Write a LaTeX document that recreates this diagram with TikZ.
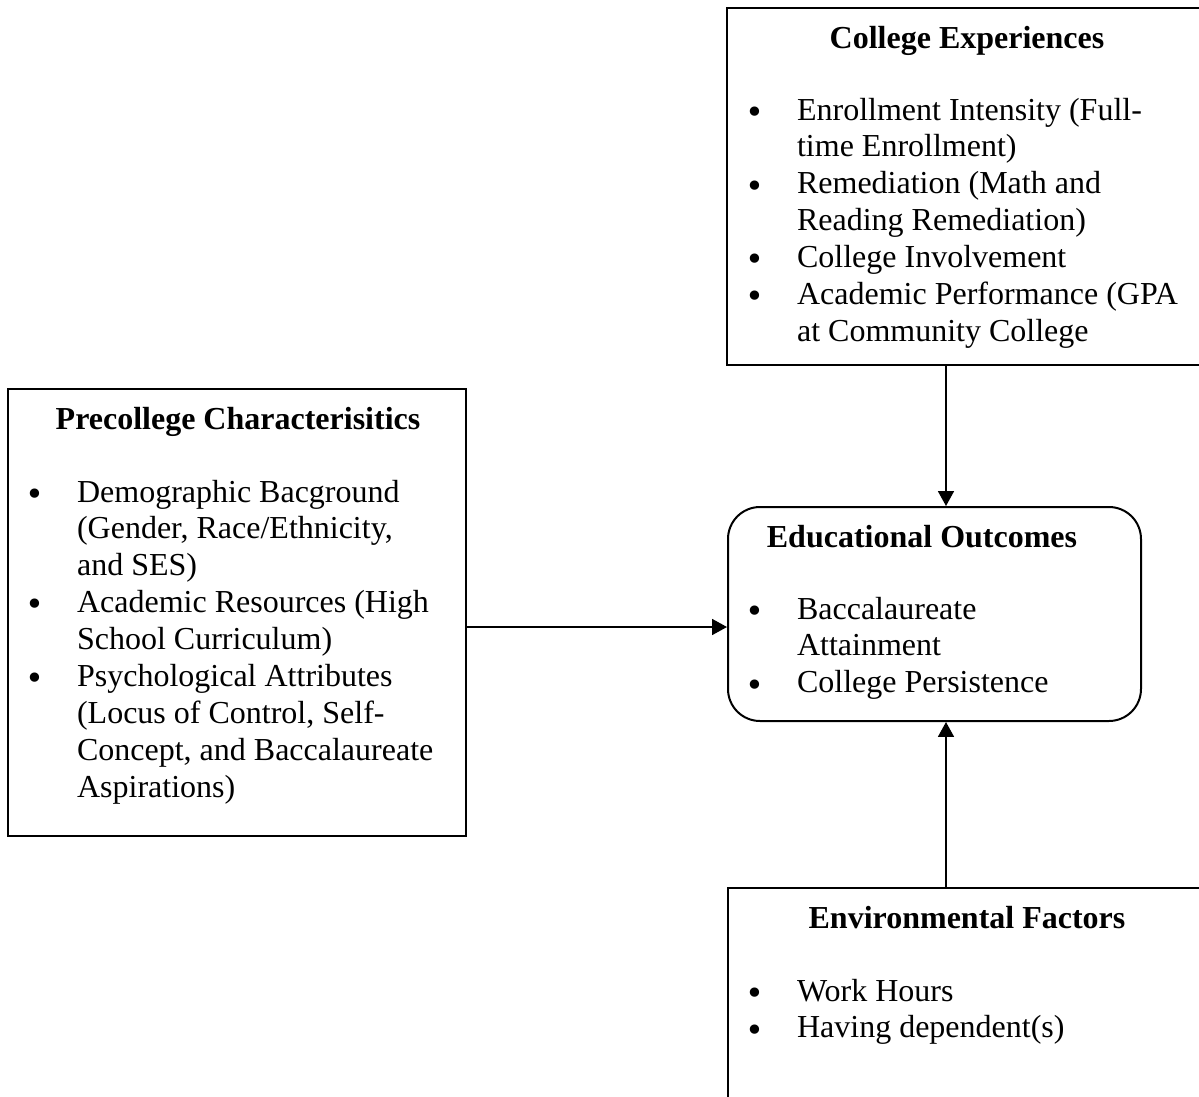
\documentclass[tikz,border=0pt]{standalone}
\usepackage{fontspec}
\setmainfont{Liberation Serif}
\newfontfamily\bulletfont{DejaVu Sans}
\usetikzlibrary{arrows.meta,fit}

\tikzset{
    box/.style={draw, line width=0.75pt, inner sep=0pt},
    title/.style={anchor=base, font=\bfseries\fontsize{12}{13.84}\selectfont},
    items/.style={anchor=base west, inner sep=0pt, font=\fontsize{12}{13.84}\selectfont},
    arr/.style={line width=0.6pt, -{Triangle[length=5.6pt,width=6pt]}}
}
\newcommand{\itemtab}[1]{\begin{tabular}[t]{@{}p{18.2pt}@{}l@{}}#1\end{tabular}}
\newcommand{\bul}{\hspace*{-1.2pt}\raisebox{-0.1em}{\bulletfont •}}

\begin{document}
\begin{tikzpicture}[x=0.375pt, y=-0.375pt]
    \useasboundingbox (0,0) rectangle (1199,1097);
    \clip (0,0) rectangle (1199,1097);

    % boxes
    \node[box, fit={(727,8) (1206,365)}] (college) {};
    \node[box, fit={(8,389) (466,836)}] (precollege) {};
    \node[box, rounded corners=12pt, fit={(728,507) (1141,721)}] (outcomes) {};
    \node[box, fit={(728,888) (1206,1120)}] (environment) {};

    % titles
    \node[title] (collegetitle) at (967,48) {College Experiences};
    \node[title] (precollegetitle) at (238,429) {Precollege Characterisitics};
    \node[title] (outcomestitle) at (922,547) {Educational Outcomes};
    \node[title] (environmenttitle) at (967,928) {Environmental Factors};

    % bullet lists
    \node[items] (collegelist) at (748,120) {\itemtab{
        \bul & Enrollment Intensity (Full-\\
             & time Enrollment)\\
        \bul & Remediation (Math and\\
             & Reading Remediation)\\
        \bul & College Involvement\\
        \bul & Academic Performance (GPA\\
             & at Community College}};
    \node[items] (precollegelist) at (28,502) {\itemtab{
        \bul & Demographic Bacground\\
             & (Gender, Race/Ethnicity,\\
             & and SES)\\
        \bul & Academic Resources (High\\
             & School Curriculum)\\
        \bul & Psychological Attributes\\
             & (Locus of Control, Self-\\
             & Concept, and Baccalaureate\\
             & Aspirations)}};
    \node[items] (outcomeslist) at (748,619) {\itemtab{
        \bul & Baccalaureate\\
             & Attainment\\
        \bul & College Persistence}};
    \node[items] (environmentlist) at (748,1001) {\itemtab{
        \bul & Work Hours\\
        \bul & Having dependent(s)}};

    % arrows
    \coordinate (axis) at (946,0);
    \coordinate (level) at (0,627);
    \draw[arr] (axis |- college.south) -- (axis |- outcomes.north);
    \draw[arr] (level -| precollege.east) -- (level -| outcomes.west);
    \draw[arr] (axis |- environment.north) -- (axis |- outcomes.south);
\end{tikzpicture}
\end{document}
